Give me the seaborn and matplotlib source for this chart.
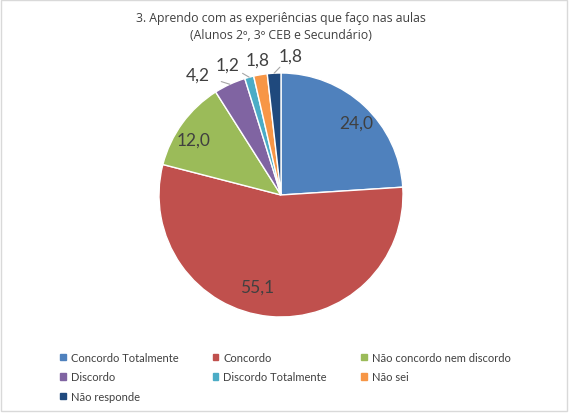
import numpy as np
import seaborn as sns
import matplotlib.pyplot as plt
from matplotlib.patches import Rectangle

sns.set_style('white')
plt.rcParams['font.family'] = ['Lato', 'DejaVu Sans']

# dados
categorias = ['Concordo Totalmente', 'Concordo', 'Não concordo nem discordo',
              'Discordo', 'Discordo Totalmente', 'Não sei', 'Não responde']
valores = [24.0, 55.1, 12.0, 4.2, 1.2, 1.8, 1.8]
rotulos = ['24,0', '55,1', '12,0', '4,2', '1,2', '1,8', '1,8']
cores = ['#4F81BD', '#C0504D', '#9BBB59', '#8064A2', '#4BACC6', '#F79646', '#1F497D']
titulo = '3. Aprendo com as experiências que faço nas aulas\n(Alunos 2º, 3º CEB e Secundário)'

# posições dos rótulos (coordenadas do gráfico) e se levam linha de chamada
pos_rotulos = [(0.62, 0.59), (-0.20, -0.75), (-0.72, 0.45),
               (-0.68, 0.99), (-0.44, 1.07), (-0.19, 1.11), (0.08, 1.14)]
com_linha = [False, False, False, True, True, False, True]

W, H = 576, 414
fig = plt.figure(figsize=(W / 100, H / 100), dpi=100)
cx, cy, r = 281, 196, 122
ax = fig.add_axes([(cx - r) / W, (H - cy - r) / H, 2 * r / W, 2 * r / H])

sns.set_palette(cores)
wedges, _ = ax.pie(valores, colors=cores, startangle=90, counterclock=False,
                   wedgeprops=dict(edgecolor='white', linewidth=1))
ax.set_xlim(-1, 1)
ax.set_ylim(-1, 1)
ax.set_aspect('equal')

for w, txt, (x, y), linha in zip(wedges, rotulos, pos_rotulos, com_linha):
    if linha:
        ang = np.deg2rad((w.theta1 + w.theta2) / 2)
        ax.annotate(txt, xy=(np.cos(ang), np.sin(ang)), xytext=(x, y),
                    ha='center', va='center', fontsize=12.5, color='#404040',
                    arrowprops=dict(arrowstyle='-', color='#A6A6A6', lw=0.8,
                                    shrinkA=6, shrinkB=0))
    else:
        ax.text(x, y, txt, ha='center', va='center', fontsize=12.5, color='#404040')

fig.text(0.488, 1 - 27 / H, titulo, ha='center', va='center', fontsize=8.8,
         color='#404040', linespacing=1.45, family=['Open Sans', 'DejaVu Sans'])

# legenda (ordem por coluna para ficar em linhas como no original)
ordem = [0, 3, 6, 1, 4, 2, 5]
handles = [Rectangle((0, 0), 1, 1, color=cores[i]) for i in ordem]
fig.legend(handles, [categorias[i] for i in ordem], ncol=3, loc='upper left',
           bbox_to_anchor=(50 / W, 1 - 343 / H), frameon=False, fontsize=8,
           handlelength=0.5, handleheight=0.5, handletextpad=0.45,
           columnspacing=3.1, labelspacing=0.75, labelcolor='#404040')

fig.patches.append(Rectangle((0.5 / W, 2 / H), 566 / W, (H - 2.5) / H,
                             transform=fig.transFigure, fill=False,
                             edgecolor='#D9D9D9', linewidth=1))

plt.savefig('out.png', dpi=100)
